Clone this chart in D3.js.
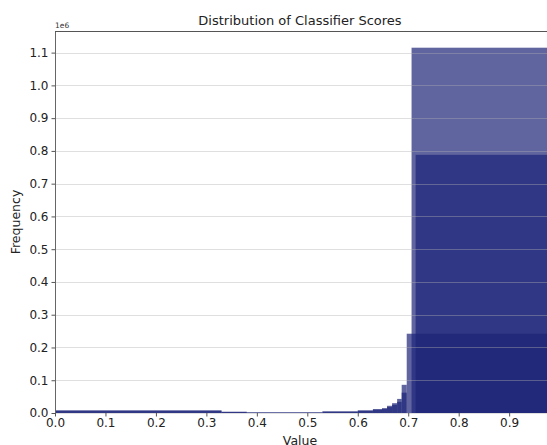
<!DOCTYPE html>
<html>
<head>
<meta charset="utf-8">
<script src="https://cdn.jsdelivr.net/npm/d3@7"></script>
<style>
  body { margin: 0; background: #fff; }
  svg { display: block; font-family: "DejaVu Sans", sans-serif; }
</style>
</head>
<body>
<div id="chart"></div>
<script>
// histogram layers (bin edges + counts), drawn on top of each other with alpha
const layerAEdges = [0.7066, 1.0];
const layerACounts = [1115000];

const layerBEdges = [0.7146, 1.0];
const layerBCounts = [788000];

const layerCEdges = [0.0, 0.33, 0.38, 0.53, 0.60, 0.63, 0.648, 0.658, 0.668, 0.678, 0.687, 0.697, 1.0];
const layerCCounts = [8000, 4000, 2000, 5000, 8000, 12000, 15000, 22000, 30000, 43000, 86000, 242000];

const layerDEdges = [0.0, 0.33, 0.38, 0.53, 0.60, 0.63, 0.648, 0.658, 0.668, 0.678, 0.687, 0.697];
const layerDCounts = [7000, 3000, 1500, 4000, 7000, 10000, 12000, 18000, 25000, 34000, 62000];

const xTicks = [0.0, 0.1, 0.2, 0.3, 0.4, 0.5, 0.6, 0.7, 0.8, 0.9];
const yTicks = [0, 100000, 200000, 300000, 400000, 500000, 600000, 700000, 800000, 900000, 1000000, 1100000];

const layers = [
    { edges: layerCEdges, counts: layerCCounts },
    { edges: layerDEdges, counts: layerDCounts },
    { edges: layerAEdges, counts: layerACounts },
    { edges: layerBEdges, counts: layerBCounts }
];

const width = 547;
const height = 445;
const margin = { top: 31, right: 0, bottom: 32, left: 55 };
const innerW = width - margin.left - margin.right;
const innerH = height - margin.top - margin.bottom;

const x = d3.scaleLinear().domain([0, 0.975]).range([0, innerW]);
const y = d3.scaleLinear().domain([0, 1166000]).range([innerH, 0]);

const svg = d3.select("#chart")
    .append("svg")
    .attr("width", width)
    .attr("height", height);

svg.append("defs").append("clipPath")
    .attr("id", "plot-clip")
    .append("rect")
    .attr("width", innerW)
    .attr("height", innerH);

const g = svg.append("g")
    .attr("transform", `translate(${margin.left},${margin.top})`);

const bars = g.append("g").attr("clip-path", "url(#plot-clip)");

layers.forEach(layer => {
    const bins = layer.counts.map((c, i) => ({ x0: layer.edges[i], x1: layer.edges[i + 1], count: c }));
    bars.append("g")
        .selectAll("rect")
        .data(bins)
        .join("rect")
        .attr("x", d => x(d.x0))
        .attr("width", d => x(d.x1) - x(d.x0))
        .attr("y", d => y(d.count))
        .attr("height", d => innerH - y(d.count))
        .attr("fill", "#1c2378")
        .attr("fill-opacity", 0.7);
});

// horizontal grid, on top of the bars
g.append("g")
    .selectAll("line")
    .data(yTicks)
    .join("line")
    .attr("x1", 0)
    .attr("x2", innerW)
    .attr("y1", d => Math.round(y(d)) + 0.5)
    .attr("y2", d => Math.round(y(d)) + 0.5)
    .attr("stroke", "#b0b0b0")
    .attr("stroke-opacity", 0.5)
    .attr("stroke-width", 0.8);

const xAxis = g.append("g")
    .attr("transform", `translate(0,${innerH})`)
    .call(d3.axisBottom(x).tickValues(xTicks).tickFormat(d3.format(".1f")).tickSize(3.5).tickPadding(1.5));

const yAxis = g.append("g")
    .call(d3.axisLeft(y).tickValues(yTicks).tickFormat(d => (d / 1e6).toFixed(1)).tickSize(3.5).tickPadding(3));

[xAxis, yAxis].forEach(ax => {
    ax.select(".domain").remove();
    ax.selectAll("line").attr("stroke", "#555");
    ax.selectAll("text").attr("font-size", 12).attr("fill", "#222").attr("font-family", "DejaVu Sans, sans-serif");
});

// spines: left and top
g.append("line")
    .attr("x1", 0.5).attr("x2", 0.5)
    .attr("y1", 0).attr("y2", innerH)
    .attr("stroke", "#666").attr("stroke-width", 1);
g.append("line")
    .attr("x1", 0).attr("x2", innerW)
    .attr("y1", 0.5).attr("y2", 0.5)
    .attr("stroke", "#555").attr("stroke-width", 1);

// offset text
g.append("text")
    .attr("x", 0)
    .attr("y", -3)
    .attr("font-size", 7.5)
    .attr("fill", "#333")
    .text("1e6");

svg.append("text")
    .attr("x", 300)
    .attr("y", 25)
    .attr("text-anchor", "middle")
    .attr("font-size", 13)
    .attr("fill", "#222")
    .text("Distribution of Classifier Scores");

svg.append("text")
    .attr("x", 300)
    .attr("y", 445)
    .attr("text-anchor", "middle")
    .attr("font-size", 12.5)
    .attr("fill", "#222")
    .text("Value");

svg.append("text")
    .attr("transform", `translate(20,${margin.top + innerH / 2}) rotate(-90)`)
    .attr("text-anchor", "middle")
    .attr("font-size", 12.5)
    .attr("fill", "#222")
    .text("Frequency");
</script>
</body>
</html>
